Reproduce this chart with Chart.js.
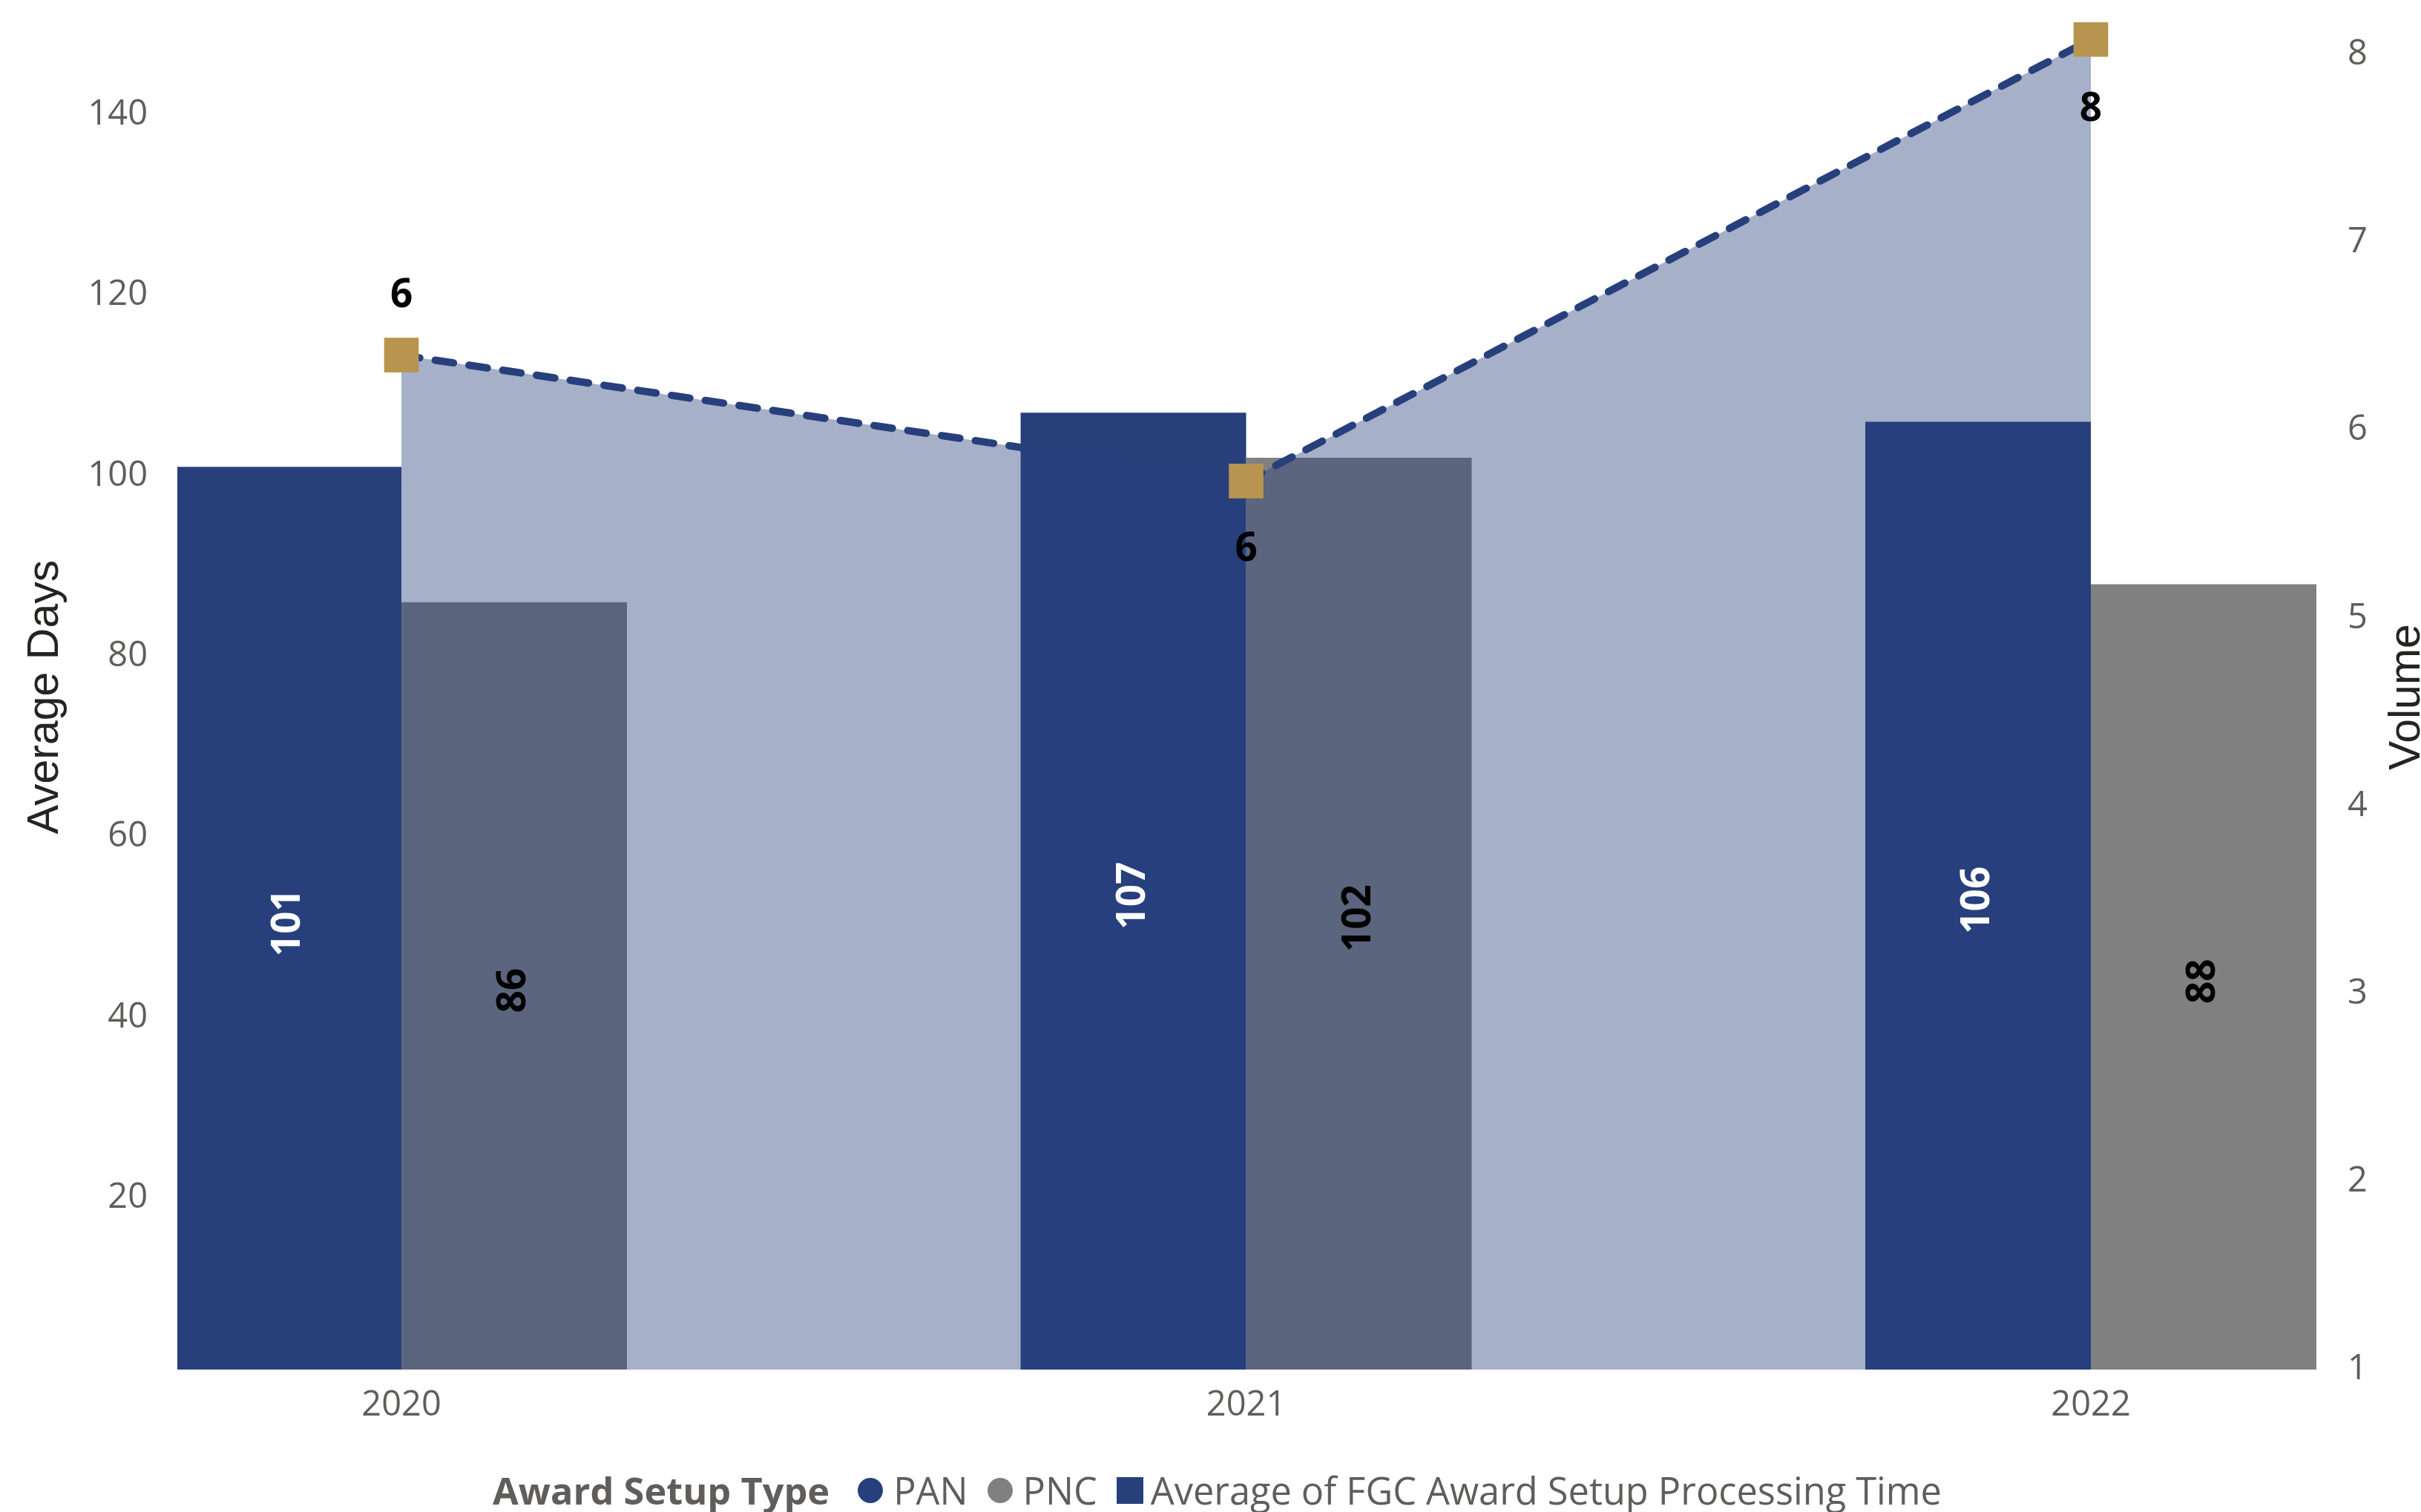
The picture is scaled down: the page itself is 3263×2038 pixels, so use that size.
<!DOCTYPE html>
<html lang="en">
<head>
    <meta charset="UTF-8">
    <title>Award Setup Processing Time</title>
    <style>
        body {
            margin: 0;
            background: #fff;
            width: 3263px;
            height: 2038px;
            overflow: hidden;
            position: relative;
            font-family: 'Open Sans', sans-serif;
        }
        .chart-box {
            position: absolute;
            left: 0;
            top: 0;
            width: 3263px;
            height: 1950px;
        }
        .legend {
            position: absolute;
            left: 664px;
            top: 1984px;
            display: flex;
            align-items: center;
            font-size: 50.5px;
            line-height: 50px;
            color: #605E5C;
            white-space: nowrap;
        }
        .legend .title { font-weight: bold; margin-right: 38px; }
        .legend .dot { width: 34px; height: 34px; border-radius: 50%; margin-right: 14px; }
        .legend .sq { width: 36px; height: 36px; margin-right: 10px; }
        .legend .item { margin-right: 26px; }
    </style>
</head>
<body>
<div class="chart-box">
    <canvas id="chart"></canvas>
</div>
<div class="legend">
    <span class="title">Award Setup Type</span>
    <span class="dot" style="background:#27407C"></span><span class="item">PAN</span>
    <span class="dot" style="background:#808080"></span><span class="item">PNC</span>
    <span class="sq" style="background:#27407C"></span><span>Average of FGC Award Setup Processing Time</span>
</div>

<script src="https://cdn.jsdelivr.net/npm/chart.js"></script>
<script>
  const years = ['2020', '2021', '2022'];
  const panDays = [101, 107, 106];
  const pncDays = [86, 102, 88];
  const volume = [6.4, 5.73, 8.08];
  const dayTicks = [20, 40, 60, 80, 100, 120, 140];
  const volumeTicks = [1, 2, 3, 4, 5, 6, 7, 8];

  const NAVY = '#27407C';
  const GREY = '#808080';
  const GOLD = '#B8954F';
  const TICK_FONT = { family: 'Open Sans', size: 47 };

  const toPoints = arr => arr.map((v, i) => ({ x: i, y: v }));

  // keep the y axes from pushing the plot area down
  const fixY = width => s => { s.width = width; s.paddingTop = 0; s.paddingBottom = 0; };

  // labels inside bars, rotated, plus volume labels near the squares
  const labelPlugin = {
    id: 'labels',
    afterDatasetsDraw(chart) {
      const ctx = chart.ctx;
      ctx.save();
      ctx.font = 'bold 53px "Open Sans"';
      ctx.textAlign = 'center';
      ctx.textBaseline = 'middle';
      [0, 1].forEach(di => {
        const meta = chart.getDatasetMeta(di);
        const vals = di === 0 ? panDays : pncDays;
        ctx.fillStyle = di === 0 ? '#fff' : '#000';
        meta.data.forEach((bar, i) => {
          ctx.save();
          ctx.translate(bar.x, (bar.y + bar.base) / 2);
          ctx.rotate(-Math.PI / 2);
          ctx.fillText(String(vals[i]), 0, 0);
          ctx.restore();
        });
      });
      const side = [-80, 93, 95];
      ctx.fillStyle = '#000';
      chart.getDatasetMeta(3).data.forEach((pt, i) => {
        ctx.fillText(String(Math.round(volume[i])), pt.x, pt.y + side[i]);
      });

      // axis titles
      ctx.font = '59px "Liberation Sans"';
      ctx.fillStyle = '#252423';
      ctx.textBaseline = 'alphabetic';
      const midY = (chart.chartArea.top + chart.chartArea.bottom) / 2;
      ctx.save();
      ctx.translate(78, midY);
      ctx.rotate(-Math.PI / 2);
      ctx.fillText('Average Days', 0, 0);
      ctx.restore();
      ctx.save();
      ctx.translate(3261, midY);
      ctx.rotate(-Math.PI / 2);
      ctx.fillText('Volume', 0, 0);
      ctx.restore();
      ctx.restore();
    }
  };

  new Chart(document.getElementById('chart'), {
    type: 'bar',
    data: {
      datasets: [
        {
          label: 'PAN',
          data: toPoints(panDays),
          backgroundColor: NAVY,
          yAxisID: 'y',
          order: 2,
          categoryPercentage: 0.534,
          barPercentage: 1
        },
        {
          label: 'PNC',
          data: toPoints(pncDays),
          backgroundColor: GREY,
          yAxisID: 'y',
          order: 2,
          categoryPercentage: 0.534,
          barPercentage: 1
        },
        {
          type: 'line',
          label: 'Volume',
          data: toPoints(volume),
          yAxisID: 'y1',
          fill: 'start',
          backgroundColor: 'rgba(39, 64, 124, 0.41)',
          borderColor: NAVY,
          borderWidth: 10,
          borderDash: [25, 21],
          borderCapStyle: 'round',
          pointRadius: 0,
          tension: 0,
          order: 1
        },
        {
          type: 'line',
          label: 'Volume points',
          data: toPoints(volume),
          yAxisID: 'y1',
          showLine: false,
          pointStyle: 'rect',
          pointRadius: 33,
          pointBorderWidth: 0,
          pointBackgroundColor: GOLD,
          clip: false,
          order: 0
        }
      ]
    },
    options: {
      responsive: true,
      maintainAspectRatio: false,
      devicePixelRatio: 1,
      animation: false,
      layout: { padding: { top: 28, left: 0, right: 0, bottom: 0 } },
      plugins: { legend: { display: false }, tooltip: { enabled: false } },
      scales: {
        x: {
          type: 'linear',
          offset: false,
          min: -0.2653,
          max: 2.267,
          afterBuildTicks: s => { s.ticks = years.map((_, i) => ({ value: i })); },
          afterFit: s => { s.height = 104; },
          grid: { display: false, drawTicks: false },
          border: { display: false },
          ticks: {
            callback: v => years[v],
            font: TICK_FONT,
            color: '#605E5C',
            padding: 20,
            maxRotation: 0
          }
        },
        y: {
          position: 'left',
          min: 1,
          max: 150,
          afterBuildTicks: s => { s.ticks = dayTicks.map(v => ({ value: v })); },
          afterFit: fixY(239),
          grid: { display: false, drawTicks: false },
          border: { display: false },
          ticks: { font: TICK_FONT, color: '#605E5C', padding: 40 }
        },
        y1: {
          position: 'right',
          min: 1,
          max: 8.16,
          afterBuildTicks: s => { s.ticks = volumeTicks.map(v => ({ value: v })); },
          afterFit: fixY(141),
          grid: { display: false, drawTicks: false },
          border: { display: false },
          ticks: { font: TICK_FONT, color: '#605E5C', padding: 42 }
        }
      }
    },
    plugins: [labelPlugin]
  });
</script>
</body>
</html>
